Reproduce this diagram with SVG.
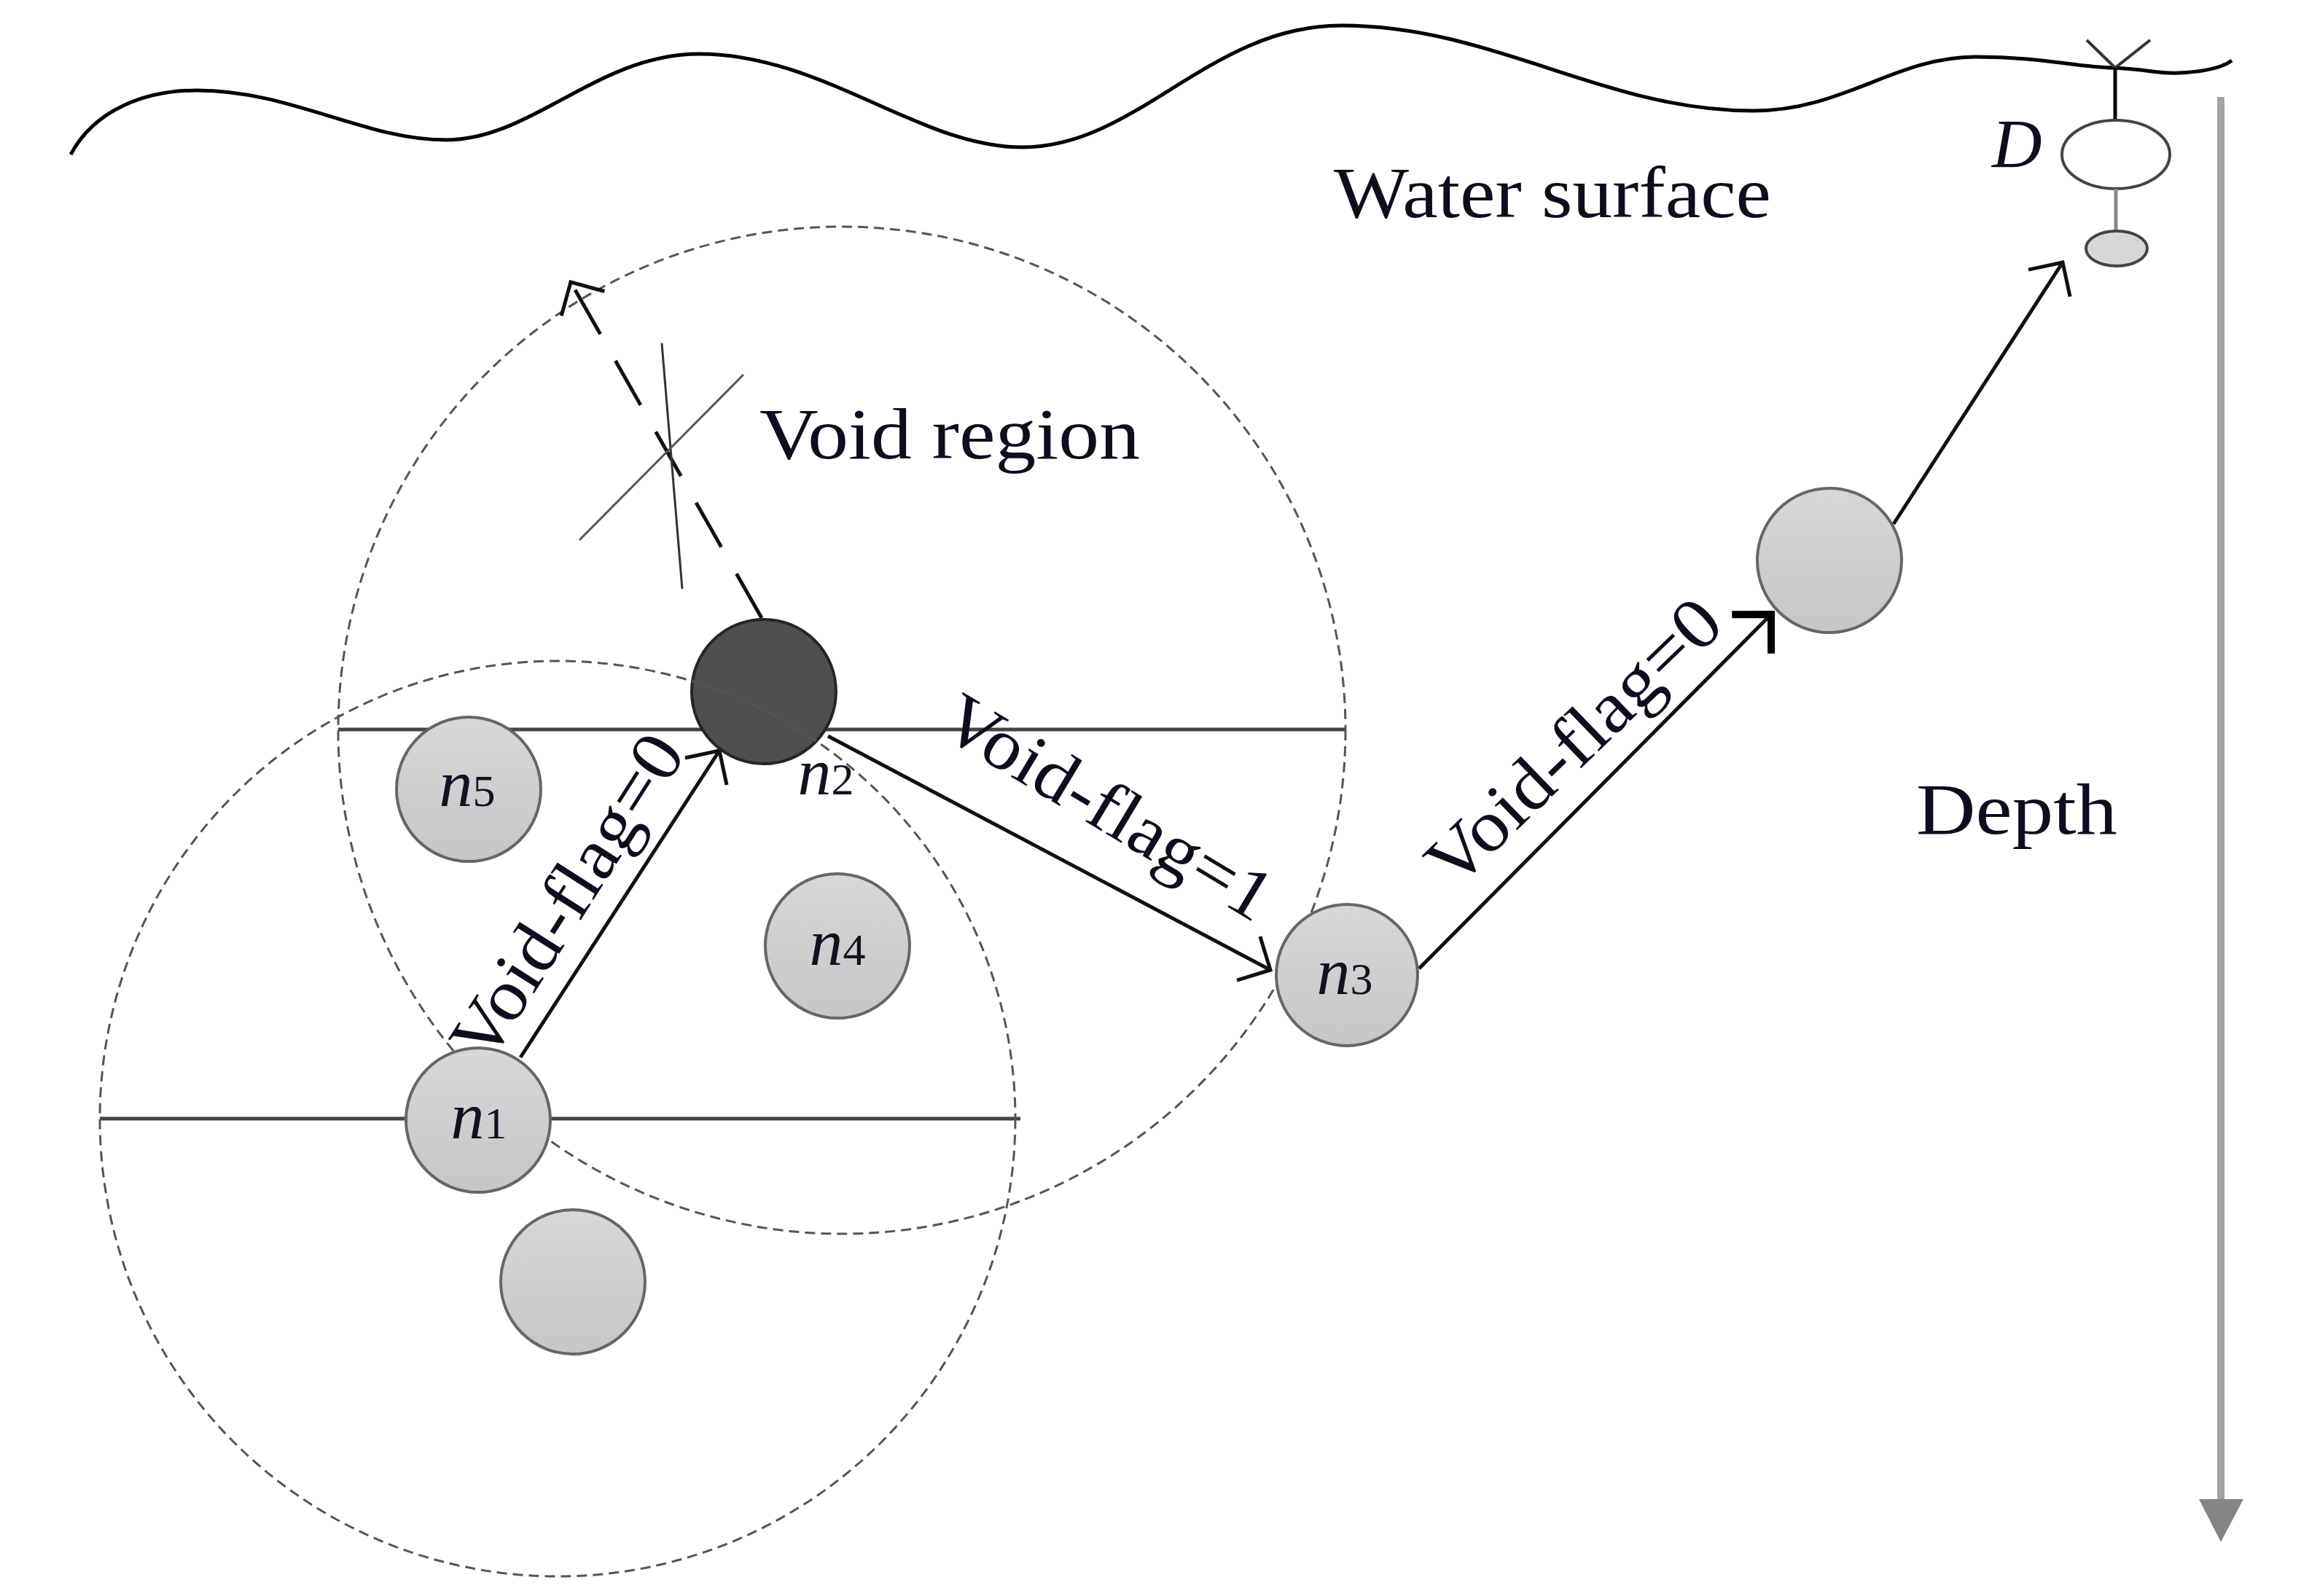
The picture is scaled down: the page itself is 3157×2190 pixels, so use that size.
<svg xmlns="http://www.w3.org/2000/svg" width="3157" height="2190" viewBox="0 0 3157 2190">
<style>
.lbl{font-family:"Liberation Serif","Times New Roman",serif;fill:#0d0d1f}
.nl{font-family:"Liberation Serif","Times New Roman",serif;fill:#111122;text-anchor:middle}
.node{fill:url(#g);stroke:#666;stroke-width:4}
.range{fill:none;stroke:#555;stroke-width:3;stroke-dasharray:14 8}
.dia{stroke:#444;stroke-width:5}
.edge{fill:none;stroke:#111;stroke-width:5}
</style>
<defs>
<linearGradient id="g" x1="0" y1="0" x2="0" y2="1">
<stop offset="0" stop-color="#d8d8d8"/>
<stop offset="1" stop-color="#c6c6c6"/>
</linearGradient>
<marker id="ah" markerUnits="userSpaceOnUse" markerWidth="90" markerHeight="90" viewBox="-60 -45 90 90" refX="0" refY="0" orient="auto">
<path d="M-34,-34 L0,0 L-34,34" fill="none" stroke="#111" stroke-width="5"/>
</marker>
<marker id="ahb" markerUnits="userSpaceOnUse" markerWidth="90" markerHeight="90" viewBox="-60 -45 90 90" refX="0" refY="0" orient="auto">
<path d="M-38,-38 L0,0 L-38,38" fill="none" stroke="#000" stroke-width="10"/>
</marker>
</defs>
<rect width="3157" height="2190" fill="#fff"/>

<g id="water">
<path d="M97,212 C130,150 200,124 270,124 C400,124 500,192 612,192 C730,192 820,74 959,74 C1130,74 1260,202 1403,202 C1560,202 1660,35 1840,35 C2050,35 2200,152 2405,152 C2530,152 2600,78 2711,78 C2800,78 2850,92 2899,93 C2950,95 2960,102 2990,100 C3030,98 3050,92 3062,83" fill="none" stroke="#000" stroke-width="5"/>
<text class="lbl" x="1830" y="298" font-size="100" textLength="600" lengthAdjust="spacingAndGlyphs">Water surface</text>
</g>

<g id="sink-D">
<path d="M2863,55 L2902,93 L2950,55" fill="none" stroke="#333" stroke-width="4"/>
<line x1="2902" y1="93" x2="2902" y2="166" stroke="#000" stroke-width="5"/>
<ellipse cx="2903" cy="212" rx="74" ry="47" fill="#fff" stroke="#444" stroke-width="4"/>
<line x1="2903" y1="259" x2="2903" y2="318" stroke="#888" stroke-width="5"/>
<ellipse cx="2904" cy="341" rx="42" ry="24" fill="#d8d8d8" stroke="#444" stroke-width="4"/>
<text class="lbl" x="2733" y="230" font-size="95" font-style="italic">D</text>
</g>

<g id="depth-axis">
<line x1="3047" y1="133" x2="3047" y2="2065" stroke="#a2a2a2" stroke-width="10"/>
<path d="M3017,2057 L3078,2057 L3047,2116 Z" fill="#858585"/>
<text class="lbl" x="2629" y="1144" font-size="100" textLength="276" lengthAdjust="spacingAndGlyphs">Depth</text>
</g>

<g id="range-upper">
<circle class="range" cx="1155" cy="1002" r="691"/>
<line class="dia" x1="464" y1="1001" x2="1845" y2="1001"/>
</g>
<g id="range-lower-diameter">
<line class="dia" x1="137" y1="1535" x2="1400" y2="1535"/>
</g>

<g id="void-region">
<text class="lbl" x="1042" y="629" font-size="100" textLength="522" lengthAdjust="spacingAndGlyphs">Void region</text>
</g>

<g id="connectors">
<line class="edge" x1="714" y1="1451" x2="987" y2="1030" marker-end="url(#ah)"/>
<line class="edge" x1="1136" y1="1010" x2="1743" y2="1331" marker-end="url(#ah)"/>
<line class="edge" x1="1947" y1="1329" x2="2430" y2="843" stroke="#333" marker-end="url(#ahb)"/>
<line class="edge" x1="2598" y1="719" x2="2830" y2="360" marker-end="url(#ah)"/>
<line class="edge" x1="1045" y1="848" x2="783" y2="387" stroke-dasharray="70 42" marker-end="url(#ah)"/>
<line x1="908" y1="471" x2="936" y2="808" stroke="#333" stroke-width="3"/>
<line x1="1020" y1="514" x2="795" y2="741" stroke="#555" stroke-width="3"/>
<text class="lbl" font-size="100" text-anchor="middle" textLength="508" lengthAdjust="spacingAndGlyphs" transform="translate(806,1248) rotate(-57.5)">Void-flag=0</text>
<text class="lbl" font-size="100" text-anchor="middle" textLength="508" lengthAdjust="spacingAndGlyphs" transform="translate(1504,1136) rotate(31)">Void-flag=1</text>
<text class="lbl" font-size="100" text-anchor="middle" textLength="520" lengthAdjust="spacingAndGlyphs" transform="translate(2182,1042) rotate(-44)">Void-flag=0</text>
</g>

<g id="n5">
<circle class="node" cx="643" cy="1083" r="99"/>
<text class="nl" x="641" y="1106"><tspan font-size="92" font-style="italic">n</tspan><tspan font-size="62">5</tspan></text>
</g>
<g id="n4">
<circle class="node" cx="1149" cy="1298" r="99"/>
<text class="nl" x="1149" y="1324"><tspan font-size="92" font-style="italic">n</tspan><tspan font-size="62">4</tspan></text>
</g>
<g id="n1">
<circle class="node" cx="656" cy="1537" r="99"/>
<text class="nl" x="657" y="1562"><tspan font-size="92" font-style="italic">n</tspan><tspan font-size="62">1</tspan></text>
</g>
<g id="node-below-n1">
<circle class="node" cx="786" cy="1759" r="99"/>
</g>
<g id="n3">
<circle class="node" cx="1848" cy="1338" r="97"/>
<text class="nl" x="1845" y="1364"><tspan font-size="92" font-style="italic">n</tspan><tspan font-size="62">3</tspan></text>
</g>
<g id="node-upper-right">
<circle class="node" cx="2510" cy="769" r="99"/>
</g>
<g id="n2">
<circle cx="1048" cy="949" r="99" fill="#4f4f4f" stroke="#262626" stroke-width="4"/>
<text class="nl" x="1133" y="1090"><tspan font-size="92" font-style="italic">n</tspan><tspan font-size="62">2</tspan></text>
</g>

<g id="range-lower">
<circle class="range" cx="765" cy="1535" r="628"/>
</g>
</svg>
